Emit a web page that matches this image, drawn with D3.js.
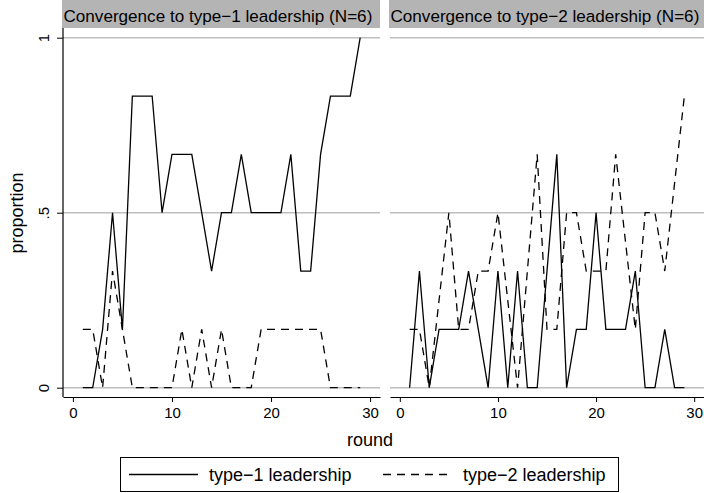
<!DOCTYPE html>
<html>
<head>
<meta charset="utf-8">
<script src="https://cdn.jsdelivr.net/npm/d3@7"></script>
<style>
  body { margin: 0; background: #fff; }
  text { font-family: "Liberation Sans", Arial, Helvetica, sans-serif; fill: #000; }
</style>
</head>
<body>
<div id="chart"></div>
<script>
const width = 704;
const height = 493;

// data (proportions of the 6 groups); null = no vertex drawn, line joins neighbours
const rounds = [1, 2, 3, 4, 5, 6, 7, 8, 9, 10, 11, 12, 13, 14, 15, 16, 17, 18, 19, 20, 21, 22, 23, 24, 25, 26, 27, 28, 29];
const leftType1 = [0, 0, 1/6, 0.5, 1/6, 5/6, 5/6, 5/6, 0.5, 2/3, 2/3, 2/3, 0.5, 1/3, 0.5, 0.5, 2/3, 0.5, 0.5, 0.5, 0.5, 2/3, 1/3, 1/3, 2/3, 5/6, 5/6, 5/6, 1];
const leftType2 = [1/6, 1/6, 0, 1/3, 1/6, 0, 0, 0, 0, 0, 1/6, 0, 1/6, 0, 1/6, 0, 0, 0, 1/6, 1/6, 1/6, 1/6, 1/6, 1/6, 1/6, 0, 0, 0, 0];
const rightType1 = [0, 1/3, 0, 1/6, 1/6, 1/6, 1/3, 1/6, 0, 1/3, 0, 1/3, 0, 0, 1/3, 2/3, 0, 1/6, 1/6, 0.5, 1/6, 1/6, 1/6, 1/3, 0, 0, 1/6, 0, 0];
const rightType2 = [1/6, 1/6, 0, null, 0.5, 1/6, 1/6, 1/3, 1/3, 0.5, null, 0, 1/3, 2/3, 1/6, 1/6, 0.5, 0.5, 1/3, 1/3, 1/3, 2/3, null, 1/6, 0.5, 0.5, 1/3, null, 5/6];

const panelTitles = ["Convergence to type\u22121 leadership (N=6)", "Convergence to type\u22122 leadership (N=6)"];
const legendLabels = ["type\u22121 leadership", "type\u22122 leadership"];
const xTicks = [0, 10, 20, 30];
const yTicks = [0, 0.5, 1];
const yTickLabels = ["0", ".5", "1"];
const xTitle = "round";
const yTitle = "proportion";

const stripHeight = 28;
const axisY = 397;
const dash = "8,6";

const svg = d3.select("#chart").append("svg")
  .attr("width", width)
  .attr("height", height)
  .style("display", "block");

const y = d3.scaleLinear().domain([0, 1]).range([387.7, 37.7]);

const panels = [
  {title: panelTitles[0], type1: leftType1, type2: leftType2, x0: 63, x1: 380, yAxis: true},
  {title: panelTitles[1], type1: rightType1, type2: rightType2, x0: 390, x1: 704, yAxis: false}
];

const toPoints = (series) => rounds
  .map((r, i) => ({round: r, value: series[i]}))
  .filter(d => d.value !== null);

const drawPanel = (p) => {
  const x = d3.scaleLinear().domain([-1, 31]).range([p.x0, p.x1]);
  const g = svg.append("g");

  // title strip
  g.append("rect")
    .attr("x", p.x0 - 1)
    .attr("y", 0)
    .attr("width", p.x1 - p.x0 + 1)
    .attr("height", stripHeight)
    .attr("fill", "#b4b4b4");
  g.append("text")
    .attr("x", p.x0 + 0.5)
    .attr("y", 21.5)
    .style("font-size", "17.1px")
    .text(p.title);

  // grid
  g.selectAll(".grid")
    .data(yTicks)
    .join("line")
    .attr("x1", p.x0)
    .attr("x2", p.x1)
    .attr("y1", d => y(d))
    .attr("y2", d => y(d))
    .attr("stroke", "#bebebe")
    .attr("stroke-width", 1.6);

  // x axis
  const xa = g.append("g")
    .attr("transform", `translate(0,${axisY})`)
    .call(d3.axisBottom(x).tickValues(xTicks).tickSize(5).tickSizeOuter(0).tickPadding(5.5));
  xa.select(".domain").attr("stroke", "#000").attr("stroke-width", 1.2);
  xa.selectAll(".tick line").attr("stroke", "#000");
  xa.selectAll(".tick text")
    .style("font-size", "15px")
    .style("font-family", "'Liberation Sans', Arial, sans-serif");

  if (p.yAxis) {
    g.append("line")
      .attr("x1", p.x0)
      .attr("x2", p.x0)
      .attr("y1", stripHeight)
      .attr("y2", axisY)
      .attr("stroke", "#000")
      .attr("stroke-width", 1.2);
    const ya = g.append("g")
      .attr("transform", `translate(${p.x0},0)`)
      .call(d3.axisLeft(y).tickValues(yTicks).tickFormat((d, i) => yTickLabels[i]).tickSize(6).tickSizeOuter(0));
    ya.select(".domain").remove();
    ya.selectAll(".tick line").attr("stroke", "#000");
    ya.selectAll(".tick text")
      .attr("x", null)
      .attr("dy", null)
      .attr("text-anchor", "middle")
      .attr("transform", "translate(-14,0) rotate(-90)")
      .style("font-size", "15px")
      .style("font-family", "'Liberation Sans', Arial, sans-serif");
  }

  const line = d3.line()
    .x(d => x(d.round))
    .y(d => y(d.value));

  g.append("path")
    .datum(toPoints(p.type2))
    .attr("d", line)
    .attr("fill", "none")
    .attr("stroke", "#000")
    .attr("stroke-width", 1.3)
    .attr("stroke-dasharray", dash);

  g.append("path")
    .datum(toPoints(p.type1))
    .attr("d", line)
    .attr("fill", "none")
    .attr("stroke", "#000")
    .attr("stroke-width", 1.3);
};

panels.forEach(drawPanel);

// axis titles
svg.append("text")
  .attr("transform", "translate(23,213) rotate(-90)")
  .attr("text-anchor", "middle")
  .style("font-size", "18px")
  .text(yTitle);

svg.append("text")
  .attr("x", 370)
  .attr("y", 446)
  .attr("text-anchor", "middle")
  .style("font-size", "18px")
  .text(xTitle);

// legend
const legend = svg.append("g");
legend.append("rect")
  .attr("x", 120.5)
  .attr("y", 457.5)
  .attr("width", 498)
  .attr("height", 34)
  .attr("fill", "none")
  .attr("stroke", "#000")
  .attr("stroke-width", 1);

const legendItems = [
  {label: legendLabels[0], x: 129, dash: null},
  {label: legendLabels[1], x: 383, dash: dash}
];

legendItems.forEach(item => {
  legend.append("line")
    .attr("x1", item.x)
    .attr("x2", item.x + 69)
    .attr("y1", 474.5)
    .attr("y2", 474.5)
    .attr("stroke", "#000")
    .attr("stroke-width", 1.3)
    .attr("stroke-dasharray", item.dash);
  legend.append("text")
    .attr("x", item.x + 80)
    .attr("y", 481)
    .style("font-size", "18px")
    .text(item.label);
});
</script>
</body>
</html>
